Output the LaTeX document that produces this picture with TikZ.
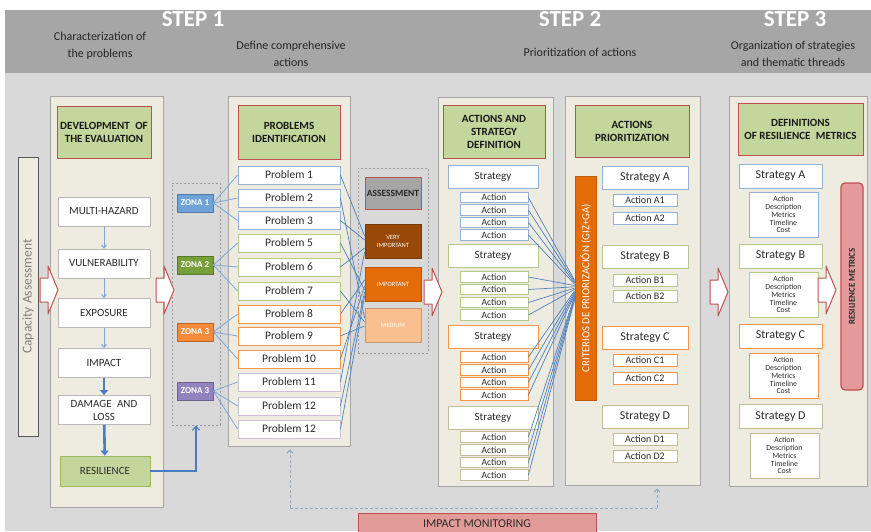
\documentclass[tikz,border=0pt]{standalone}
\usepackage{fontspec}
\setmainfont{Carlito}
\usetikzlibrary{arrows.meta}
\definecolor{hdrband}{HTML}{A6A6A6}
\definecolor{bg}{HTML}{D9D9D9}
\definecolor{panelfill}{HTML}{EEECE1}
\definecolor{panelline}{HTML}{A6A6A6}
\definecolor{hgreen}{HTML}{C3D69B}
\definecolor{resgreen}{HTML}{9BBB59}
\definecolor{hred}{HTML}{C0504D}
\definecolor{bblue}{HTML}{95B3D7}
\definecolor{bgreen}{HTML}{B5CA8A}
\definecolor{borange}{HTML}{F79646}
\definecolor{btan}{HTML}{C4BD97}
\definecolor{bpurple}{HTML}{CCC0DA}
\definecolor{txt}{HTML}{2B2B2B}
\definecolor{lineblue}{HTML}{4F81BD}
\definecolor{zline}{HTML}{7EA6D6}
\definecolor{zblue}{HTML}{6FA3D8}
\definecolor{zgreen}{HTML}{77A03B}
\definecolor{zorange}{HTML}{F48A3A}
\definecolor{zpurple}{HTML}{9283BE}
\definecolor{vimp}{HTML}{984807}
\definecolor{imp}{HTML}{E36C09}
\definecolor{med}{HTML}{FABF8F}
\definecolor{rmfill}{HTML}{E6999B}
\definecolor{imfill}{HTML}{E39B99}
\definecolor{arrred}{HTML}{C0504D}
\definecolor{arrblue}{HTML}{7FA7D8}
\definecolor{thickblue}{HTML}{4A7EC2}
\definecolor{monblue}{HTML}{8EA9C8}
\begin{document}
\begin{tikzpicture}[x=1pt,y=-1pt,
  box/.style={draw, line width=0.8pt, inner sep=0pt, text=txt, align=center},
  panel/.style={box, draw=panelline, fill=panelfill},
  hdr/.style={box, draw=hred, fill=hgreen, text=black!90, font=\fontsize{11}{13}\selectfont\bfseries},
  stepbox/.style={box, draw=gray!55, fill=white, minimum width=92pt, minimum height=29pt, font=\fontsize{11}{13}\selectfont},
  zone/.style={box, draw=#1!75!black, fill=#1, text=white, minimum width=36pt, minimum height=18pt, font=\fontsize{9}{10}\selectfont\bfseries},
  prob/.style={box, draw=#1, fill=white, minimum width=102pt, minimum height=18pt, font=\fontsize{11.5}{13}\selectfont},
  lvl/.style={box, draw=#1!80!black, fill=#1, text=white, minimum width=56pt, minimum height=34pt, font=\fontsize{6.5}{7.5}\selectfont},
  dbox/.style={draw=gray!80, line width=0.8pt, dash pattern=on 2pt off 2pt, inner sep=0pt},
  strat/.style={box, draw=#1, fill=white, minimum height=23pt, font=\fontsize{12}{13}\selectfont},
  act/.style={box, draw=#1, fill=white, font=\fontsize{9.5}{10}\selectfont},
  det/.style={box, draw=#1, fill=white, minimum width=69pt, minimum height=45pt, font=\fontsize{7.8}{7.9}\selectfont},
  conn/.style={draw=lineblue, line width=0.7pt},
  zconn/.style={draw=zline, line width=0.8pt},
  thinarr/.style={draw=arrblue, line width=1pt, -{Straight Barb[length=3pt,width=5pt]}},
  thickarr/.style={draw=thickblue, line width=2.6pt, -{Triangle[length=5pt,width=8pt]}},
  mon/.style={draw=monblue, line width=1pt, dash pattern=on 3pt off 2pt, -{Straight Barb[length=3pt,width=6pt]}},
  sub/.style={text=black!85, align=center, font=\fontsize{12}{16.5}\selectfont},
  harrow/.pic={\draw[draw=arrred, fill=white, line width=1pt, line join=round] (0,-12) -- (8,-12) -- (8,-24) -- (18,0) -- (8,24) -- (8,12) -- (0,12) -- cycle;}
]
\useasboundingbox (0,0) rectangle (871,531);
\fill[bg] (5,10) rectangle (871,531);
\fill[hdrband] (5,10) rectangle (871,73);
% header texts
\node[text=white, font=\fontsize{23}{26}\selectfont\bfseries] (s1) at (193,19) {STEP 1};
\node[text=white, font=\fontsize{23}{26}\selectfont\bfseries] (s2) at (570,19) {STEP 2};
\node[text=white, font=\fontsize{23}{26}\selectfont\bfseries] (s3) at (795,19) {STEP 3};
\node[sub] (t1) at (100,46) {Characterization of\\the problems};
\node[sub] (t2) at (291,54) {Define comprehensive\\actions};
\node[sub] (t3) at (580,52) {Prioritization of actions};
\node[sub] (t4) at (793,54) {Organization of strategies\\and thematic threads};
% panels
\node[box, draw=gray!70!black, fill=panelfill, minimum width=20pt, minimum height=279pt] (cap) at (28,296.5) {};
\node[rotate=90, text=gray, font=\fontsize{13.5}{15}\selectfont] (capt) at (cap.center) {Capacity Assessment};
\node[panel, minimum width=113pt, minimum height=411pt] (P1) at (106.5,301.5) {};
\node[panel, minimum width=122pt, minimum height=350pt] (P2) at (289,271) {};
\node[panel, minimum width=115pt, minimum height=389pt] (P3) at (495.5,291.5) {};
\node[panel, minimum width=135pt, minimum height=389pt] (P4) at (632.5,290.5) {};
\node[panel, minimum width=138pt, minimum height=390pt] (P5) at (798,291) {};
\node[dbox, minimum width=48pt, minimum height=242pt] (Z) at (196,304) {};
\node[dbox, minimum width=70pt, minimum height=185pt] (AS) at (393,260.5) {};
% column 1
\node[hdr, minimum width=94pt, minimum height=52pt] (h1) at (104,132) {DEVELOPMENT\enspace OF\\THE EVALUATION};
\node[stepbox] (mh) at (104,211.5) {MULTI-HAZARD};
\node[stepbox] (vu) at (104,263.5) {VULNERABILITY};
\node[stepbox] (ex) at (104,313) {EXPOSURE};
\node[stepbox] (ia) at (104,363) {IMPACT};
\node[stepbox] (dl) at (104,410) {DAMAGE\enspace AND\\LOSS};
\node[stepbox, fill=hgreen, draw=resgreen, minimum width=90pt, minimum height=30pt] (re) at (105,471) {RESILIENCE};
\draw[thinarr] (mh) -- (vu);
\draw[thinarr] (vu) -- (ex);
\draw[thinarr] (ex) -- (ia);
\draw[thickarr] (ia) -- (dl);
\draw[thickarr] (dl) -- (re);
% zones
\node[zone=zblue] (z1) at (195,203) {ZONA 1};
\node[zone=zgreen] (z2) at (195,265) {ZONA 2};
\node[zone=zorange] (z3) at (195,332) {ZONA 3};
\node[zone=zpurple] (z4) at (195,391) {ZONA 3};
\draw[draw=thickblue, line width=1.2pt, -{Straight Barb[length=4pt,width=7pt]}] (re.east) -| (Z.south);
% column 2
\node[hdr, minimum width=102pt, minimum height=54pt] (h2) at (289,132) {PROBLEMS\\IDENTIFICATION};
\node[prob=bblue] (p1) at (289,175) {Problem 1};
\node[prob=bblue] (p2) at (289,198) {Problem 2};
\node[prob=bblue] (p3) at (289,220.5) {Problem 3};
\node[prob=bgreen] (p5) at (289,243) {Problem 5};
\node[prob=bgreen] (p6) at (289,267) {Problem 6};
\node[prob=bgreen] (p7) at (289,291) {Problem 7};
\node[prob=borange] (p8) at (289,314) {Problem 8};
\node[prob=borange] (p9) at (289,336) {Problem 9};
\node[prob=borange] (p10) at (289,359) {Problem 10};
\node[prob=bpurple] (p11) at (289,382) {Problem 11};
\node[prob=bpurple] (p12) at (289,406) {Problem 12};
\node[prob=bpurple] (p13) at (289,429) {Problem 12};
\foreach \z/\a/\b/\c in {z1/p1/p2/p3, z2/p5/p6/p7, z3/p8/p9/p10, z4/p11/p12/p13}{
  \draw[zconn] (\z.east) -- (\a.west);
  \draw[zconn] (\z.east) -- (\b.west);
  \draw[zconn] (\z.east) -- (\c.west);
}
% assessment
\node[box, draw=hred, fill=hdrband, text=black!85, minimum width=56pt, minimum height=32pt, font=\fontsize{9.5}{10}\selectfont\bfseries] (asm) at (393,193) {ASSESSMENT};
\node[lvl=vimp] (vi) at (393,241.5) {VERY\\IMPORTANT};
\node[lvl=imp] (ip) at (393,284.5) {IMPORTANT};
\node[lvl=med] (md) at (393,325.5) {MEDIUM};
\draw[conn] (p1.east) -- ([yshift=5.5pt]vi.west);
\draw[conn] (p2.east) -- ([yshift=7.5pt]md.west);
\draw[conn] (p3.east) -- ([yshift=1.5pt]vi.west);
\draw[conn] (p5.east) -- ([yshift=-5.5pt]ip.west);
\draw[conn] (p6.east) -- ([yshift=-6.5pt]vi.west);
\draw[conn] (p7.east) -- ([yshift=3.5pt]md.west);
\draw[conn] (p8.east) -- ([yshift=4.5pt]ip.west);
\draw[conn] (p9.east) -- ([yshift=-0.5pt]md.west);
\draw[conn] (p10.east) -- ([yshift=-1.5pt]ip.west);
\draw[conn] (p11.east) -- ([yshift=-10.5pt]vi.west);
\draw[conn] (p12.east) -- ([yshift=-7.5pt]ip.west);
\draw[conn] (p13.east) -- ([yshift=-11.5pt]ip.west);
% column 3
\node[hdr, minimum width=102pt, minimum height=53pt] (h3) at (494,131.5) {ACTIONS AND\\STRATEGY\\DEFINITION};
\node[strat=bblue, minimum width=90pt, font=\fontsize{11}{12}\selectfont] (sa) at (493,176.5) {Strategy};
\node[strat=bgreen, minimum width=90pt, font=\fontsize{11}{12}\selectfont] (sb) at (493,256) {Strategy};
\node[strat=borange, minimum width=90pt, font=\fontsize{11}{12}\selectfont] (sc) at (493,336.5) {Strategy};
\node[strat=btan, minimum width=90pt, font=\fontsize{11}{12}\selectfont] (sd) at (493,417.5) {Strategy};
\foreach \n/\y/\c in {a1/197.5/bblue, a2/210/bblue, a3/222.5/bblue, a4/235/bblue,
  a5/277/bgreen, a6/289.5/bgreen, a7/302.5/bgreen, a8/315/bgreen,
  a9/357/borange, a10/370/borange, a11/382.5/borange, a12/395/borange,
  a13/437/btan, a14/450/btan, a15/462.5/btan, a16/475/btan}{
  \node[act=\c, minimum width=68pt, minimum height=10.5pt] (\n) at (494,\y) {Action};
}
% column 4
\node[hdr, minimum width=114pt, minimum height=52pt] (h4) at (632,131) {ACTIONS\\PRIORITIZATION};
\node[box, draw=imp!85!black, fill=imp, minimum width=21pt, minimum height=224pt] (crit) at (585.5,288) {};
\node[rotate=90, text=white, font=\fontsize{10.8}{12}\selectfont] (critt) at (crit.center) {CRITERIOS DE PRIORIZACIÓN (GIZ+GA)};
\foreach \n [count=\k] in {a1,a2,a3,a4,a5,a6,a7,a8,a9,a10,a11,a12,a13,a14,a15,a16}{
  \draw[conn] (\n.east) -- ([yshift={9pt-1.3pt*\k}]crit.west);
}
\node[strat=bblue, minimum width=86pt] (qa) at (645,178) {Strategy A};
\node[strat=bgreen, minimum width=86pt] (qb) at (645,256.5) {Strategy B};
\node[strat=borange, minimum width=86pt] (qc) at (645,337.5) {Strategy C};
\node[strat=btan, minimum width=86pt] (qd) at (645,416.5) {Strategy D};
\foreach \n/\y/\c/\t in {q1/200/bblue/A1, q2/218/bblue/A2, q3/280.5/bgreen/B1, q4/296.5/bgreen/B2,
  q5/360/borange/C1, q6/378.5/borange/C2, q7/439/btan/D1, q8/456.5/btan/D2}{
  \node[act=\c, minimum width=64pt, minimum height=12pt, font=\fontsize{10}{11}\selectfont] (\n) at (645,\y) {Action \t};
}
% column 5
\node[hdr, minimum width=125pt, minimum height=52pt] (h5) at (800.5,129) {DEFINITIONS\\OF RESILIENCE\enspace METRICS};
\node[strat=bblue, minimum width=83pt, minimum height=24pt] (ra) at (780.5,176) {Strategy A};
\node[strat=bgreen, minimum width=83pt, minimum height=24pt] (rb) at (780.5,256) {Strategy B};
\node[strat=borange, minimum width=83pt, minimum height=24pt] (rc) at (780.5,336) {Strategy C};
\node[strat=btan, minimum width=83pt, minimum height=24pt] (rd) at (780.5,416.5) {Strategy D};
\node[det=bblue] (da) at (783.5,214.5) {Action\\Description\\Metrics\\Timeline\\Cost};
\node[det=bgreen] (db) at (783.5,294.5) {Action\\Description\\Metrics\\Timeline\\Cost};
\node[det=borange] (dc) at (783.5,375.5) {Action\\Description\\Metrics\\Timeline\\Cost};
\node[det=btan] (dd) at (784.5,455.5) {Action\\Description\\Metrics\\Timeline\\Cost};
\node[box, draw=hred, fill=rmfill, rounded corners=4pt, line width=1.2pt, minimum width=22pt, minimum height=207pt] (rm) at (852,286.5) {};
\node[rotate=90, text=txt, font=\fontsize{9}{10}\selectfont\bfseries] (rmt) at (rm.center) {RESILIENCE METRICS};
% hollow arrows
\pic at (40,290) {harrow};
\pic at (156,290) {harrow};
\pic at (424,292) {harrow};
\pic at (710,292) {harrow};
\pic at (818,290) {harrow};
% impact monitoring
\coordinate (m1) at (290,508);
\coordinate (m2) at (657,508);
\draw[mon] (m1) -- ([yshift=-3pt]m1 |- P2.south);
\draw[mon] (m2) -- ([yshift=-3pt]m2 |- P4.south);
\draw[draw=monblue, line width=1pt, dash pattern=on 3pt off 2pt] (m1) -- (m2);
\node[box, draw=hred, fill=imfill, minimum width=238pt, minimum height=22pt, font=\fontsize{12}{13}\selectfont] (imon) at (477,524) {IMPACT MONITORING};
\end{tikzpicture}
\end{document}
